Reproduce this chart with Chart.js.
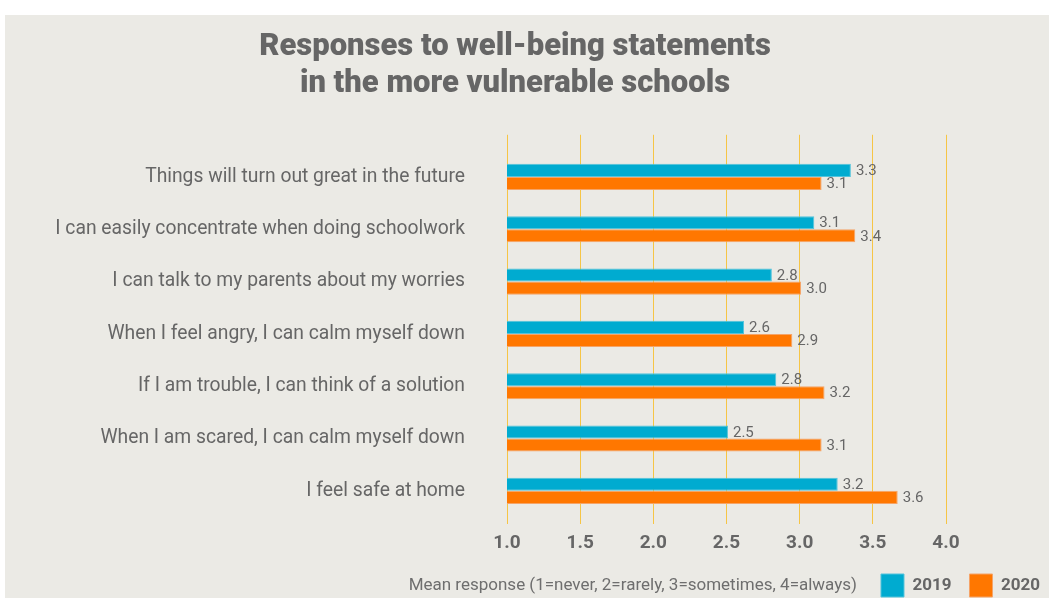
<!DOCTYPE html>
<html>
<head>
<meta charset="utf-8">
<title>Responses to well-being statements</title>
<script src="https://cdn.jsdelivr.net/npm/chart.js@4.4.1/dist/chart.umd.min.js"></script>
<style>
    html, body { margin: 0; padding: 0; background: #ffffff; overflow: hidden; }
    #panel {
        position: absolute;
        left: 5px;
        top: 15px;
        width: 1044px;
        height: 583px;
        background: #ebeae5;
    }
</style>
</head>
<body>
<div id="panel"><canvas id="wellbeingChart"></canvas></div>
<script>
// Chart data
const statements = [
    'Things will turn out great in the future',
    'I can easily concentrate when doing schoolwork',
    'I can talk to my parents about my worries',
    'When I feel angry, I can calm myself down',
    'If I am trouble, I can think of a solution',
    'When I am scared, I can calm myself down',
    'I feel safe at home'
];
const values2019 = [3.35, 3.10, 2.81, 2.62, 2.84, 2.51, 3.26];
const values2020 = [3.15, 3.38, 3.01, 2.95, 3.17, 3.15, 3.67];
const labels2019 = ['3.3', '3.1', '2.8', '2.6', '2.8', '2.5', '3.2'];
const labels2020 = ['3.1', '3.4', '3.0', '2.9', '3.2', '3.1', '3.6'];
const xTickLabels = ['1.0', '1.5', '2.0', '2.5', '3.0', '3.5', '4.0'];
const axisCaption = 'Mean response (1=never, 2=rarely, 3=sometimes, 4=always)';

const textGrey = '#666666';
const gridGold = '#f6c545';

Chart.defaults.font.family = 'Roboto';
Chart.defaults.color = textGrey;

// Value labels at the end of each bar
const valueLabels = {
    id: 'valueLabels',
    afterDatasetsDraw(chart) {
        const ctx = chart.ctx;
        const texts = [labels2019, labels2020];
        ctx.save();
        ctx.font = '15px Roboto';
        ctx.fillStyle = textGrey;
        ctx.textAlign = 'left';
        ctx.textBaseline = 'middle';
        chart.data.datasets.forEach((ds, i) => {
            chart.getDatasetMeta(i).data.forEach((bar, j) => {
                ctx.fillText(texts[i][j], bar.x + 5, bar.y + 1);
            });
        });
        ctx.restore();
    }
};

// Axis caption sits to the left of the legend
const legendCaption = {
    id: 'legendCaption',
    afterDraw(chart) {
        const boxes = chart.legend.legendHitBoxes;
        if (!boxes || !boxes.length) return;
        const first = boxes[0];
        const ctx = chart.ctx;
        ctx.save();
        ctx.font = '17px Roboto';
        ctx.fillStyle = '#6e6e6e';
        ctx.textAlign = 'right';
        ctx.textBaseline = 'middle';
        ctx.fillText(axisCaption, first.left - 24, first.top + first.height / 2);
        ctx.restore();
    }
};

const ctx = document.getElementById('wellbeingChart').getContext('2d');
new Chart(ctx, {
    type: 'bar',
    data: {
        labels: statements,
        datasets: [
            {
                label: '2019',
                data: values2019,
                backgroundColor: '#00abd0',
                borderColor: '#52c3dc',
                borderWidth: 1,
                categoryPercentage: 0.5,
                barPercentage: 1.0
            },
            {
                label: '2020',
                data: values2020,
                backgroundColor: '#ff7700',
                borderColor: '#f5a468',
                borderWidth: 1,
                categoryPercentage: 0.5,
                barPercentage: 1.0
            }
        ]
    },
    options: {
        indexAxis: 'y',
        responsive: true,
        maintainAspectRatio: false,
        animation: false,
        layout: {
            padding: { left: -33, right: -9, top: 0, bottom: -9 }
        },
        plugins: {
            title: {
                display: true,
                text: ['Responses to well-being statements', 'in the more vulnerable schools'],
                color: textGrey,
                font: { size: 31, weight: 900, lineHeight: 1.19 },
                padding: { top: 13.5, bottom: 32.5 }
            },
            legend: {
                position: 'bottom',
                align: 'end',
                labels: {
                    boxWidth: 23,
                    boxHeight: 23,
                    padding: 18,
                    color: textGrey,
                    font: { size: 17, weight: 'bold' }
                }
            },
            tooltip: { enabled: false }
        },
        scales: {
            x: {
                type: 'linear',
                position: 'bottom',
                min: 1,
                max: 4,
                border: { display: false },
                grid: { color: gridGold, lineWidth: 1, tickLength: 7 },
                ticks: {
                    stepSize: 0.5,
                    padding: 8,
                    color: textGrey,
                    font: { size: 19, weight: 'bold' },
                    callback: (v, i) => xTickLabels[i]
                },
                afterFit(scale) { scale.height = 39; }
            },
            xTop: {
                type: 'linear',
                position: 'top',
                min: 1,
                max: 4,
                border: { display: false },
                grid: { color: gridGold, lineWidth: 1, drawOnChartArea: false, tickLength: 16 },
                ticks: { stepSize: 0.5, display: false }
            },
            y: {
                position: 'left',
                border: { display: false },
                grid: { display: false },
                ticks: {
                    padding: 34,
                    color: textGrey,
                    font: { size: 19.3 }
                },
                afterFit(scale) { scale.width = 535; }
            },
            yRight: {
                type: 'category',
                position: 'right',
                border: { display: false },
                grid: { display: false },
                ticks: { display: false },
                afterFit(scale) { scale.width = 112; }
            }
        }
    },
    plugins: [valueLabels, legendCaption]
});
</script>
</body>
</html>
